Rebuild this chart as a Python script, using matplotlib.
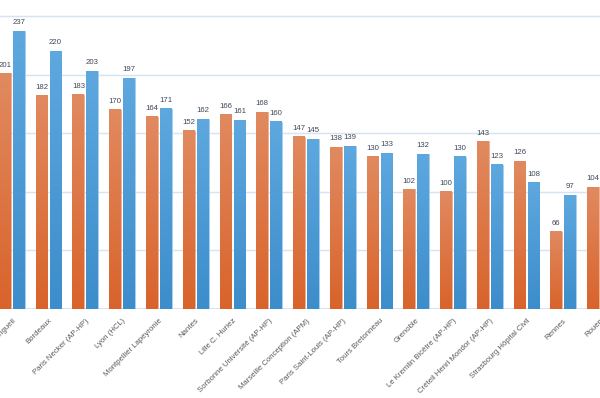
import matplotlib
matplotlib.use("Agg")
import matplotlib.pyplot as plt
import numpy as np
from matplotlib.colors import LinearSegmentedColormap

categories = ["Toulouse Rangueil", "Bordeaux", "Paris Necker (AP-HP)", "Lyon (HCL)",
              "Montpellier Lapeyronie", "Nantes", "Lille C. Huriez",
              "Sorbonne Université (AP-HP)", "Marseille Conception (APM)",
              "Paris Saint-Louis (AP-HP)", "Tours Bretonneau", "Grenoble",
              "Le Kremlin Bicêtre (AP-HP)", "Créteil Henri Mondor (AP-HP)",
              "Strasbourg Hôpital Civil", "Rennes", "Rouen"]
series_orange = [201, 182, 183, 170, 164, 152, 166, 168, 147, 138, 130, 102, 100, 143, 126, 66, 104]
series_blue = [237, 220, 203, 197, 171, 162, 161, 160, 145, 139, 133, 132, 130, 123, 108, 97, 100]

plt.rcParams['font.family'] = ['Liberation Sans', 'DejaVu Sans']

fig = plt.figure(figsize=(6, 3.98), dpi=100)
ax = fig.add_axes([0, 89/398, 1, 1 - 89/398])

x = np.arange(len(categories))
w = 0.32
off = 0.19

cm_o = LinearSegmentedColormap.from_list("o", ["#D9632B", "#E18A60"])
cm_b = LinearSegmentedColormap.from_list("b", ["#3C8DCB", "#5EA8DF"])

bars_o = ax.bar(x - off, series_orange, w, color="#DC7040", edgecolor="#F0B090", linewidth=0.6, zorder=2)
bars_b = ax.bar(x + off, series_blue, w, color="#4A9AD6", edgecolor="#A8D0F0", linewidth=0.6, zorder=2)

grad = np.linspace(0, 1, 256).reshape(-1, 1)
for bars, cm in ((bars_o, cm_o), (bars_b, cm_b)):
    for r in bars:
        x0 = r.get_x(); x1 = x0 + r.get_width(); h = r.get_height()
        ax.imshow(grad, extent=(x0, x1, 0, h), origin="lower", aspect="auto", cmap=cm, zorder=2.1)

for bars, vals in ((bars_o, series_orange), (bars_b, series_blue)):
    for r, v in zip(bars, vals):
        ax.annotate(str(v), (r.get_x() + r.get_width() / 2, v), xytext=(0, 3.5),
                    textcoords="offset points", ha="center", va="bottom",
                    fontsize=5.6, color="#404858")

ax.set_xlim(-0.322, 15.807)
ax.set_ylim(0, 263.7)
ax.set_yticks([50, 100, 150, 200, 250])
ax.yaxis.grid(True, color="#D5E3F4", linewidth=1.0, zorder=0)
ax.set_axisbelow(True)
for s in ax.spines.values():
    s.set_visible(False)
ax.axhline(0, color="#CFDDF0", linewidth=1.2, zorder=1)
ax.tick_params(axis="y", left=False, labelleft=False)
ax.set_xticks(x)
ax.set_xticklabels(categories, rotation=45, ha="right", rotation_mode="anchor",
                   fontsize=5.6, color="#595959")
ax.tick_params(axis="x", length=0, pad=6)

fig.savefig("out.png", dpi=100)
